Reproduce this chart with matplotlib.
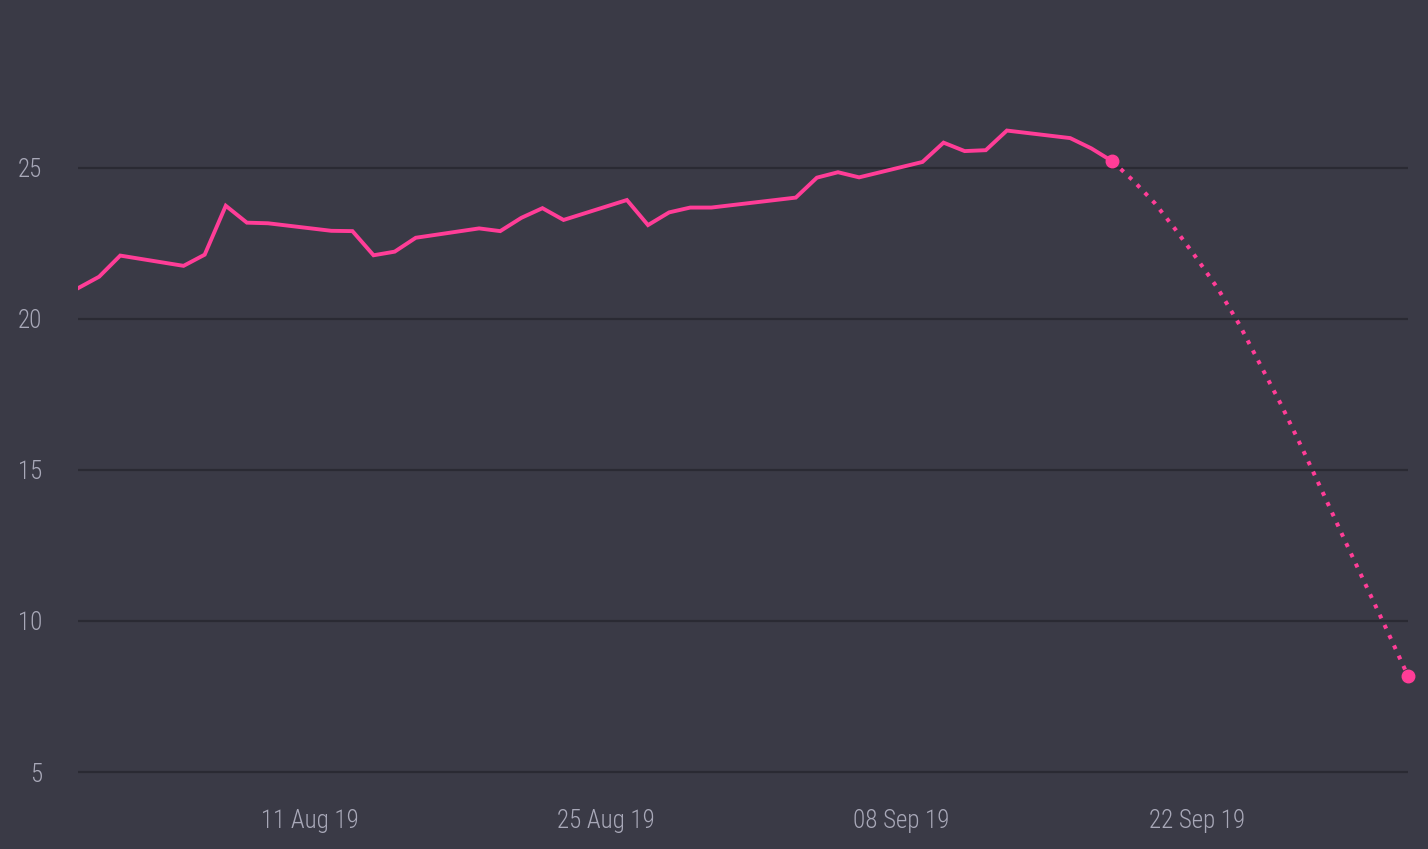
import matplotlib.pyplot as plt
import matplotlib.dates as mdates
from datetime import datetime

# actual closing values (trading days only)
actual_dates = ['2019-07-31', '2019-08-01', '2019-08-02', '2019-08-05', '2019-08-06',
                '2019-08-07', '2019-08-08', '2019-08-09', '2019-08-12', '2019-08-13',
                '2019-08-14', '2019-08-15', '2019-08-16', '2019-08-19', '2019-08-20',
                '2019-08-21', '2019-08-22', '2019-08-23', '2019-08-26', '2019-08-27',
                '2019-08-28', '2019-08-29', '2019-08-30', '2019-09-03', '2019-09-04',
                '2019-09-05', '2019-09-06', '2019-09-09', '2019-09-10', '2019-09-11',
                '2019-09-12', '2019-09-13', '2019-09-16', '2019-09-17', '2019-09-18']
actual_values = [21.02, 21.40, 22.10, 21.76, 22.13,
                 23.75, 23.19, 23.17, 22.92, 22.91,
                 22.11, 22.23, 22.69, 23.00, 22.91,
                 23.35, 23.67, 23.28, 23.94, 23.11,
                 23.53, 23.69, 23.69, 24.02, 24.68,
                 24.86, 24.69, 25.20, 25.84, 25.56,
                 25.59, 26.24, 25.99, 25.65, 25.22]

# forecast, daily
forecast_dates = ['2019-09-18', '2019-09-19', '2019-09-20', '2019-09-21', '2019-09-22',
                  '2019-09-23', '2019-09-24', '2019-09-25', '2019-09-26', '2019-09-27',
                  '2019-09-28', '2019-09-29', '2019-09-30', '2019-10-01', '2019-10-02']
forecast_values = [25.22, 24.57, 23.84, 22.95, 22.00,
                   21.00, 19.83, 18.49, 17.15, 15.70,
                   14.20, 12.68, 11.19, 9.70, 8.18]

tick_dates = ['2019-08-11', '2019-08-25', '2019-09-08', '2019-09-22']
y_ticks = [5, 10, 15, 20, 25]

bg = '#3a3a46'
pink = '#ff3d97'
grid_col = '#2a2a33'
text_col = '#a8a8b8'

to_dt = lambda lst: [datetime.strptime(d, '%Y-%m-%d') for d in lst]
ad = to_dt(actual_dates)
fd = to_dt(forecast_dates)

plt.rcParams['font.family'] = ['Roboto Condensed', 'Liberation Sans Narrow', 'Roboto', 'DejaVu Sans']

fig = plt.figure(figsize=(14.28, 8.49), dpi=100, facecolor=bg)
ax = fig.add_axes([78 / 1428, 1 - 795 / 849, 1330 / 1428, 765 / 849])
ax.set_facecolor(bg)

ax.plot(ad, actual_values, color=pink, lw=2.8, solid_joinstyle='miter', zorder=3)
ax.plot(fd, forecast_values, color=pink, lw=2.9, linestyle=(0, (1, 1.8)),
        dash_capstyle='butt', zorder=3)
ax.plot([ad[-1], fd[-1]], [actual_values[-1], forecast_values[-1]], 'o',
        color=pink, markersize=9, zorder=4, clip_on=False)

ax.set_xlim(ad[0], fd[-1])
ax.set_ylim(5 - 23 / 30.2, 25 + 138 / 30.2)

ax.set_yticks(y_ticks)
ax.set_xticks(to_dt(tick_dates))
ax.xaxis.set_major_formatter(mdates.DateFormatter('%d %b %y'))

ax.grid(axis='y', color=grid_col, lw=1.6)
ax.set_axisbelow(True)
for s in ax.spines.values():
    s.set_visible(False)
ax.tick_params(axis='both', length=0, colors=text_col, labelsize=18)
for lab in ax.get_xticklabels() + ax.get_yticklabels():
    lab.set_fontweight('light')
ax.tick_params(axis='y', pad=26)
ax.tick_params(axis='x', pad=10)

fig.savefig('out.png', dpi=100, facecolor=bg)
